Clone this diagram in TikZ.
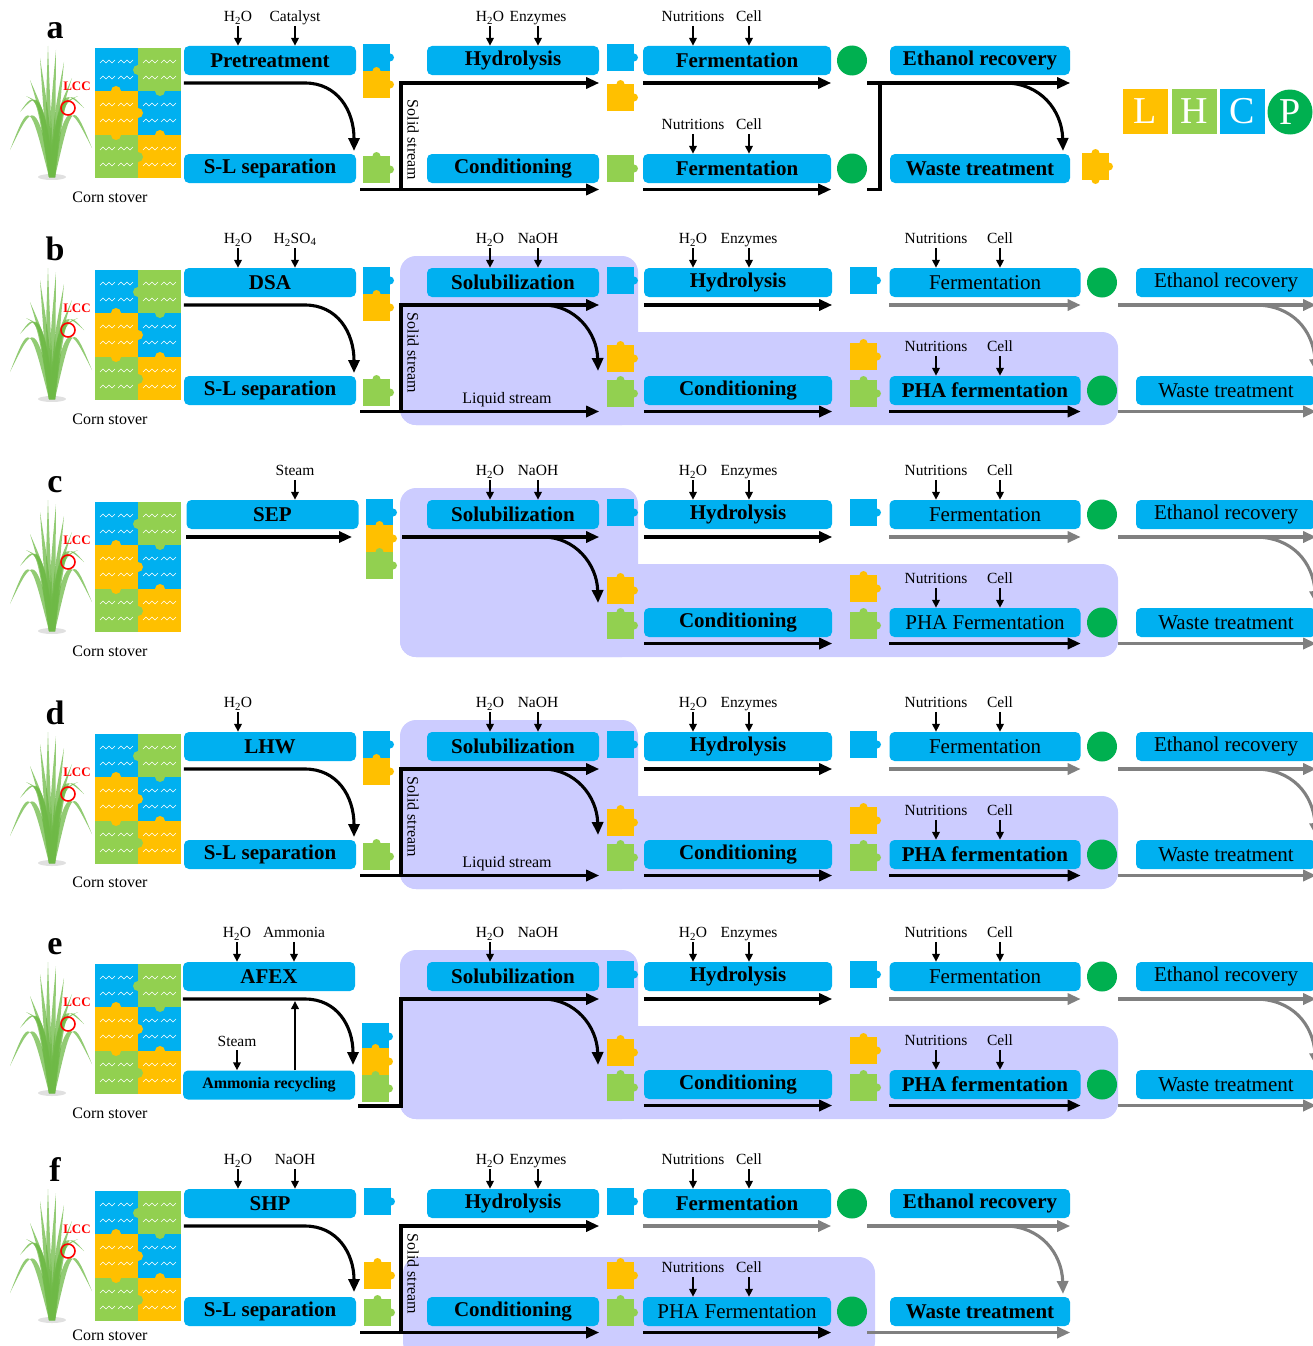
\documentclass[tikz,border=0pt]{standalone}
\usepackage{fontspec}
\setmainfont{Liberation Serif}
\usetikzlibrary{arrows.meta}

\definecolor{procblue}{RGB}{0,176,240}
\definecolor{ligyellow}{RGB}{255,192,0}
\definecolor{celgreen}{RGB}{146,208,80}
\definecolor{prodgreen}{RGB}{0,176,80}
\definecolor{phaback}{RGB}{204,204,255}
\definecolor{flowgray}{RGB}{128,128,128}
\definecolor{leafgreen}{RGB}{110,185,70}

\begin{document}
\begin{tikzpicture}[x=1pt, y=-1pt,
		proc/.style={fill=procblue, rounded corners=5pt, minimum height=29pt, inner sep=0pt, font=\fontsize{21}{23}\selectfont\bfseries},
		normalw/.style={font=\fontsize{21}{23}\selectfont},
		narrow/.style={minimum width=172pt},
		wide/.style={minimum width=188pt},
		ferm/.style={minimum width=191pt},
		recov/.style={minimum width=180pt},
		feedlbl/.style={font=\fontsize{15.5}{17}\selectfont, inner sep=0pt, anchor=base},
		feedarr/.style={line width=1.9pt, -{Triangle[length=8pt,width=7.5pt]}},
		flow/.style={line width=3.1pt, -{Triangle[length=13pt,width=11pt]}},
		flowline/.style={line width=3.1pt},
		grayflow/.style={flow, draw=flowgray},
		stream/.style={font=\fontsize{16}{18}\selectfont, inner sep=0pt},
		lcc/.style={text=red, font=\fontsize{13}{15}\selectfont\bfseries, inner sep=0pt},
		panel/.style={font=\fontsize{34}{36}\selectfont\bfseries, inner sep=0pt, anchor=base},
		prod/.style={circle, fill=prodgreen, minimum size=30pt, inner sep=0pt},
		legsq/.style={minimum size=45pt, inner sep=0pt, text=white, font=\fontsize{38}{40}\selectfont}]
		\useasboundingbox (0,0) rectangle (1313,1346);

		% Macro for a feed: label above a box with a short arrow into it.
		% Usage: \feed{box}{x offset}{text}{name}
		\newcommand{\feed}[4]{
			\node[feedlbl] (#4) at ([xshift=#2pt, yshift=24pt]#1.north) {#3};
			\draw[feedarr] ([yshift=-4pt]#4.base) -- (#4.base |- #1.north);
		}

		% Puzzle pieces (colour, left, top), tab on the right; \jigt adds a top tab
		\newcommand{\jig}[3]{
			\fill[#1] (#2,#3) rectangle ++(27,27);
			\fill[#1] (#2+27,#3+13.5) circle (4pt);
		}
		\newcommand{\jigt}[3]{
			\jig{#1}{#2}{#3}
			\fill[#1] (#2+13.5,#3) circle (4pt);
		}

		% Corn stover: grass, LCC puzzle and caption. Usage: \stover{letter}{caption y}
		\newcommand{\stover}[2]{
			\node[panel] (#1lbl) at (55,38) {#1};
			\fill[black!12] (52,177) ellipse (14pt and 3pt);
			\foreach \tx/\ty/\cx/\cy in {48/46/48/110, 56/50/53/110, 40/58/46/112, 64/62/57/112, 30/80/43/115, 72/78/58/115, 20/112/38/90, 84/108/64/88, 10/150/32/100, 92/148/70/100, 26/96/42/104, 78/96/60/104}
				\fill[leafgreen, opacity=0.75] (49,177) .. controls (\cx-2.5,\cy) .. (\tx,\ty) .. controls (\cx+2.5,\cy) .. (55,177);
			\fill[procblue] (95,48) rectangle (138,91);
			\fill[celgreen] (138,48) rectangle (181,91);
			\fill[ligyellow] (95,91) rectangle (138,135);
			\fill[procblue] (138,91) rectangle (181,135);
			\fill[celgreen] (95,135) rectangle (138,178);
			\fill[ligyellow] (138,135) rectangle (181,178);
			\fill[ligyellow] (116,91) circle (5pt) (138,113) circle (5pt) (116,135) circle (5pt) (160,135) circle (5pt);
			\fill[celgreen] (138,70) circle (5pt) (160,91) circle (5pt) (138,157) circle (5pt);
			\foreach \gx in {95,138} {
				\foreach \gy in {48,91,135} {
					\foreach \dx/\dy in {5/15, 23/15, 5/31, 23/31}
						\draw[white, line width=0.5pt] (\gx+\dx,\gy+\dy) -- ++(3,-3) -- ++(3,3) -- ++(3,-3) -- ++(3,3) -- ++(3,-3);
				}
			}
			\node[lcc] (#1lcc) at (77,86) {LCC};
			\draw[red, line width=1.6pt] (68,108) circle (7pt);
			\node[stream] (#1cs) at (110,#2) {Corn stover};
		}

		% Shaded PHA zone behind the liquid route
		\newcommand{\phazone}{
			\fill[phaback, rounded corners=16pt] (400,34) rectangle (638,203);
			\fill[phaback, rounded corners=16pt] (400,110) rectangle (1118,203);
		}

		% Solubilization onwards, shared by b to e. Usage: \phapart{prefix}{PHA text}{PHA style}
		\newcommand{\phapart}[3]{
			\node[proc, narrow] (#1sol) at (513,60.5) {Solubilization};
			\node[proc, wide] (#1hyd) at (738,60.5) {Hydrolysis};
			\node[proc, wide] (#1con) at (738,168.5) {Conditioning};
			\node[proc, ferm, normalw] (#1fer) at (985,60.5) {Fermentation};
			\node[proc, ferm, #3] (#1pha) at (985,168.5) {#2};
			\node[proc, recov, normalw] (#1eth) at (1226,60.5) {Ethanol recovery};
			\node[proc, recov, normalw] (#1was) at (1226,168.5) {Waste treatment};
			\node[prod] (#1p1) at (1102,60.5) {};
			\node[prod] (#1p2) at (1102,168.5) {};
			\feed{#1hyd}{-45}{H\textsubscript{2}O}{#1hw}
			\feed{#1hyd}{11}{Enzymes}{#1he}
			\feed{#1fer}{-49}{Nutritions}{#1fn}
			\feed{#1fer}{15}{Cell}{#1fc}
			\feed{#1pha}{-49}{Nutritions}{#1pn}
			\feed{#1pha}{15}{Cell}{#1pc}
			\jig{procblue}{607}{45} \jigt{ligyellow}{607}{123} \jigt{celgreen}{607}{158}
			\jig{procblue}{850}{45} \jigt{ligyellow}{850}{121} \jigt{celgreen}{850}{158}
			\draw[flow] (543,83) .. controls (575,83) and (597,110) .. (598,149);
			\draw[flow] (#1hyd.west |- #1top) -- (#1hyd.east |- #1top);
			\draw[flow] (#1con.west |- #1bot) -- (#1con.east |- #1bot);
			\draw[grayflow] (#1fer.west |- #1top) -- (#1fer.east |- #1top);
			\draw[flow] (#1pha.west |- #1bot) -- (#1pha.east |- #1bot);
			\draw[grayflow] (1118,83) -- (#1eth.east |- #1top);
			\draw[grayflow] (1118,189.5) -- (#1was.east |- #1bot);
			\draw[grayflow] (1255,83) .. controls (1292,83) and (1313,108) .. (1316,150);
		}

		% (a) conventional route
		\begin{scope}
			\coordinate (atop) at (0,83);
			\coordinate (abot) at (0,189.5);
			\stover{a}{197}
			\node[proc, narrow] (apre) at (270,60.5) {Pretreatment};
			\node[proc, narrow] (asl) at (270,168.5) {S-L separation};
			\node[proc, narrow] (ahyd) at (513,60.5) {Hydrolysis};
			\node[proc, narrow] (acon) at (513,168.5) {Conditioning};
			\node[proc, wide] (afer) at (737,60.5) {Fermentation};
			\node[proc, wide] (afer2) at (737,168.5) {Fermentation};
			\node[proc, recov] (aeth) at (980,60.5) {Ethanol recovery};
			\node[proc, recov] (awas) at (980,168.5) {Waste treatment};
			\node[prod] (ap1) at (852,60.5) {};
			\node[prod] (ap2) at (852,168.5) {};
			\feed{apre}{-32}{H\textsubscript{2}O}{apw}
			\feed{apre}{25}{Catalyst}{apc}
			\feed{ahyd}{-23}{H\textsubscript{2}O}{ahw}
			\feed{ahyd}{25}{Enzymes}{ahe}
			\feed{afer}{-44}{Nutritions}{afn}
			\feed{afer}{12}{Cell}{afc}
			\feed{afer2}{-44}{Nutritions}{agn}
			\feed{afer2}{12}{Cell}{agc}
			\jig{procblue}{363}{44} \jigt{ligyellow}{363}{71} \jigt{celgreen}{363}{156}
			\jig{procblue}{607}{44} \jigt{ligyellow}{607}{84} \jig{celgreen}{607}{155}
			\jigt{ligyellow}{1082}{153}
			\fill[ligyellow] (1095.5,180) circle (4pt);
			\draw[flow] (apre.west |- atop) -- (305,83) .. controls (337,83) and (354,110) .. (354,151);
			\draw[flow] (360,189.5) -- (acon.east |- abot);
			\draw[flow] (401,191) -- (401,83) -- (ahyd.east |- atop);
			\node[stream, rotate=-90] (ass) at (413,140) {Solid stream};
			\draw[flow] (afer.west |- atop) -- (afer.east |- atop);
			\draw[flow] (afer2.west |- abot) -- (afer2.east |- abot);
			\draw[flowline] (867,189.5) -- (880,189.5) -- (880,83);
			\draw[flow] (867,83) -- (aeth.east |- atop);
			\draw[flow] (1005,83) .. controls (1040,83) and (1062,110) .. (1063,151);
			% legend
			\node[legsq, fill=ligyellow] (legL) at (1145.5,111.5) {L};
			\node[legsq, fill=celgreen] (legH) at (1194.5,111.5) {H};
			\node[legsq, fill=procblue] (legC) at (1242.5,111.5) {C};
			\node[legsq, circle, fill=prodgreen] (legP) at (1290,112) {P};
		\end{scope}

		% (b) DSA
		\begin{scope}[shift={(0,222)}]
			\coordinate (btop) at (0,83);
			\coordinate (bbot) at (0,189.5);
			\phazone
			\stover{b}{197}
			\node[proc, narrow] (bdsa) at (270,60.5) {DSA};
			\node[proc, narrow] (bsl) at (270,168.5) {S-L separation};
			\feed{bdsa}{-32}{H\textsubscript{2}O}{bdw}
			\feed{bdsa}{25}{H\textsubscript{2}SO\textsubscript{4}}{bda}
			\jig{procblue}{363}{45} \jigt{ligyellow}{363}{72} \jigt{celgreen}{363}{157}
			\phapart{b}{PHA fermentation}{}
			\feed{bsol}{-23}{H\textsubscript{2}O}{bsw}
			\feed{bsol}{25}{NaOH}{bsn}
			\draw[flow] (bdsa.west |- btop) -- (305,83) .. controls (337,83) and (354,110) .. (354,151);
			\draw[flow] (360,189.5) -- (bsol.east |- bbot);
			\draw[flow] (401,191) -- (401,83) -- (bsol.east |- btop);
			\node[stream, rotate=-90] (bss) at (413,131) {Solid stream};
			\node[stream] (bls) at (507,178) {Liquid stream};
		\end{scope}

		% (c) SEP
		\begin{scope}[shift={(0,454)}]
			\coordinate (ctop) at (0,83);
			\coordinate (cbot) at (0,189.5);
			\phazone
			\stover{c}{197}
			\node[proc, narrow] (csep) at (272.5,60.5) {SEP};
			\feed{csep}{22.5}{Steam}{cst}
			\jig{procblue}{366}{45} \jigt{ligyellow}{366}{71} \jigt{celgreen}{366}{98}
			\phapart{c}{PHA Fermentation}{normalw}
			\feed{csol}{-23}{H\textsubscript{2}O}{csw}
			\feed{csol}{25}{NaOH}{csn}
			\draw[flow] (csep.west |- ctop) -- (352,83);
			\draw[flow] (402,83) -- (csol.east |- ctop);
		\end{scope}

		% (d) LHW
		\begin{scope}[shift={(0,686)}]
			\coordinate (dtop) at (0,83);
			\coordinate (dbot) at (0,189.5);
			\phazone
			\stover{d}{196}
			\node[proc, narrow] (dlhw) at (270,60.5) {LHW};
			\node[proc, narrow] (dsl) at (270,168.5) {S-L separation};
			\feed{dlhw}{-32}{H\textsubscript{2}O}{dlw}
			\jig{procblue}{363}{45} \jigt{ligyellow}{363}{72} \jigt{celgreen}{363}{157}
			\phapart{d}{PHA fermentation}{}
			\feed{dsol}{-23}{H\textsubscript{2}O}{dsw}
			\feed{dsol}{25}{NaOH}{dsn}
			\draw[flow] (dlhw.west |- dtop) -- (305,83) .. controls (337,83) and (354,110) .. (354,151);
			\draw[flow] (360,189.5) -- (dsol.east |- dbot);
			\draw[flow] (401,191) -- (401,83) -- (dsol.east |- dtop);
			\node[stream, rotate=-90] (dss) at (413,131) {Solid stream};
			\node[stream] (dls) at (507,178) {Liquid stream};
		\end{scope}

		% (e) AFEX
		\begin{scope}[shift={(0,916)}]
			\coordinate (etop) at (0,83);
			\coordinate (ebot) at (0,189.5);
			\phazone
			\stover{e}{197}
			\node[proc, narrow] (eafx) at (269,60.5) {AFEX};
			\node[proc, narrow, font=\fontsize{16}{18}\selectfont\bfseries] (erec) at (269,169) {Ammonia recycling};
			\feed{eafx}{-32}{H\textsubscript{2}O}{eaw}
			\feed{eafx}{25}{Ammonia}{eaa}
			\feed{erec}{-32}{Steam}{ers}
			\jig{procblue}{362}{107} \jigt{ligyellow}{362}{132} \jigt{celgreen}{362}{159}
			\phapart{e}{PHA fermentation}{}
			\feed{esol}{-23}{H\textsubscript{2}O}{esw}
			\node[feedlbl] (esn) at ([xshift=25pt, yshift=24pt]esol.north) {NaOH};
			\draw[flow] (eafx.west |- etop) -- (305,83) .. controls (337,83) and (353,110) .. (353,149);
			\draw[feedarr, line width=2pt] ([xshift=26pt]erec.north) -- ([xshift=26pt, yshift=-2pt]erec.north |- etop);
			\draw[flow] (358,190) -- (401,190) -- (401,83) -- (esol.east |- etop);
		\end{scope}

		% (f) SHP
		\begin{scope}[shift={(0,1143)}]
			\coordinate (ftop) at (0,83);
			\coordinate (fbot) at (0,189.5);
			\fill[phaback, rounded corners=16pt] (403,114) rectangle (875,215);
			\stover{f}{192}
			\node[proc, narrow] (fshp) at (270,60.5) {SHP};
			\node[proc, narrow] (fsl) at (270,168.5) {S-L separation};
			\node[proc, narrow] (fhyd) at (513,60.5) {Hydrolysis};
			\node[proc, narrow] (fcon) at (513,168.5) {Conditioning};
			\node[proc, wide] (ffer) at (737,60.5) {Fermentation};
			\node[proc, wide, normalw] (fpha) at (737,168.5) {PHA Fermentation};
			\node[proc, recov] (feth) at (980,60.5) {Ethanol recovery};
			\node[proc, recov] (fwas) at (980,168.5) {Waste treatment};
			\node[prod] (fp1) at (852,60.5) {};
			\node[prod] (fp2) at (852,168.5) {};
			\feed{fshp}{-32}{H\textsubscript{2}O}{fsw}
			\feed{fshp}{25}{NaOH}{fsn}
			\feed{fhyd}{-23}{H\textsubscript{2}O}{fhw}
			\feed{fhyd}{25}{Enzymes}{fhe}
			\feed{ffer}{-44}{Nutritions}{ffn}
			\feed{ffer}{12}{Cell}{ffc}
			\feed{fpha}{-44}{Nutritions}{fpn}
			\feed{fpha}{12}{Cell}{fpc}
			\jig{procblue}{364}{45} \jigt{ligyellow}{364}{119} \jigt{celgreen}{364}{156}
			\jig{procblue}{607}{45} \jigt{ligyellow}{607}{119} \jigt{celgreen}{607}{156}
			\draw[flow] (fshp.west |- ftop) -- (305,83) .. controls (337,83) and (354,110) .. (354,149);
			\draw[flow] (360,189.5) -- (fcon.east |- fbot);
			\draw[flow] (401,191) -- (401,83) -- (fhyd.east |- ftop);
			\node[stream, rotate=-90] (fss) at (413,131) {Solid stream};
			\draw[grayflow] (ffer.west |- ftop) -- (ffer.east |- ftop);
			\draw[flow] (fpha.west |- fbot) -- (fpha.east |- fbot);
			\draw[grayflow] (867,83) -- (feth.east |- ftop);
			\draw[grayflow] (1005,83) .. controls (1040,83) and (1062,110) .. (1063,151);
			\draw[grayflow] (867,189.5) -- (fwas.east |- fbot);
		\end{scope}
	\end{tikzpicture}
\end{document}
